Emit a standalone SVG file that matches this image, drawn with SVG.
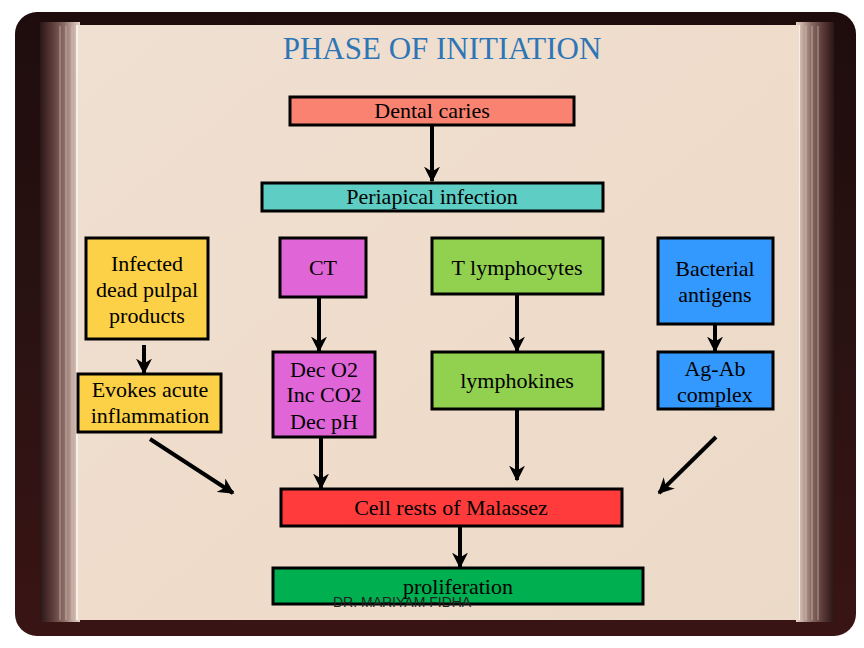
<svg xmlns="http://www.w3.org/2000/svg" width="864" height="648" viewBox="0 0 864 648">
<defs>
<linearGradient id="frameG" x1="0" y1="0" x2="0" y2="1">
<stop offset="0" stop-color="#1e0c0c"/>
<stop offset="0.5" stop-color="#2a1212"/>
<stop offset="1" stop-color="#3a1414"/>
</linearGradient>
<linearGradient id="pageG" x1="0" y1="0" x2="1" y2="1">
<stop offset="0" stop-color="#efe0d2"/>
<stop offset="0.5" stop-color="#efdccb"/>
<stop offset="1" stop-color="#ecdac9"/>
</linearGradient>
<linearGradient id="edgeL" x1="0" y1="0" x2="1" y2="0">
<stop offset="0" stop-color="#2a1616"/>
<stop offset="0.3" stop-color="#5a3a38"/>
<stop offset="0.6" stop-color="#8a6c66"/>
<stop offset="0.85" stop-color="#c8b0a6"/>
<stop offset="1" stop-color="#e8d6c8"/>
</linearGradient>
<linearGradient id="edgeR" x1="1" y1="0" x2="0" y2="0">
<stop offset="0" stop-color="#2a1616"/>
<stop offset="0.3" stop-color="#5a3a38"/>
<stop offset="0.6" stop-color="#8a6c66"/>
<stop offset="0.85" stop-color="#c8b0a6"/>
<stop offset="1" stop-color="#e8d6c8"/>
</linearGradient>
<marker id="ah" viewBox="0 0 10 10" refX="9" refY="5" markerWidth="4" markerHeight="4" orient="auto" markerUnits="strokeWidth">
<path d="M0,0 L10,5 L0,10 L3,5 z" fill="#000"/>
</marker>
<style>
.box{stroke:#000;stroke-width:3}
.t{font-family:"Liberation Serif","Times New Roman",serif;font-size:22px;fill:#000;text-anchor:middle}
.c{fill:none;stroke:#000;stroke-width:4;marker-end:url(#ah)}
</style>
</defs>
<rect width="864" height="648" fill="#fff"/>
<g id="frame">
<rect x="15" y="12" width="841" height="624" rx="22" fill="url(#frameG)"/>
<rect x="40" y="22" width="40" height="600" fill="url(#edgeL)"/>
<rect x="796" y="22" width="38" height="600" fill="url(#edgeR)"/>
<g stroke="#d8c4ba" stroke-width="1" opacity="0.7">
<line x1="60" y1="26" x2="60" y2="620"/>
<line x1="66" y1="26" x2="66" y2="620"/>
<line x1="72" y1="26" x2="72" y2="620"/>
<line x1="806" y1="26" x2="806" y2="620"/>
<line x1="812" y1="26" x2="812" y2="620"/>
<line x1="818" y1="26" x2="818" y2="620"/>
</g>
<line x1="77" y1="25" x2="77" y2="620" stroke="#fff" stroke-width="1.5"/>
<line x1="799" y1="25" x2="799" y2="620" stroke="#fff" stroke-width="1.5"/>
<rect x="78" y="25" width="721" height="595" fill="url(#pageG)"/>
</g>
<text x="442" y="59" font-family="Liberation Serif,'Times New Roman',serif" font-size="31" fill="#2e75b6" text-anchor="middle">PHASE OF INITIATION</text>
<g id="connectors">
<line class="c" x1="432" y1="125" x2="432" y2="181"/>
<line class="c" x1="144" y1="345" x2="144" y2="373"/>
<line class="c" x1="319" y1="297" x2="319" y2="351"/>
<line class="c" x1="517" y1="294" x2="517" y2="351"/>
<line class="c" x1="715" y1="324" x2="715" y2="351"/>
<line class="c" x1="321" y1="437" x2="321" y2="488"/>
<line class="c" x1="517" y1="409" x2="517" y2="480"/>
<line class="c" x1="460" y1="526" x2="460" y2="567"/>
<line class="c" x1="150" y1="439" x2="233" y2="493"/>
<line class="c" x1="716" y1="437" x2="659" y2="493"/>
</g>
<g id="dental-caries">
<rect class="box" x="290" y="97" width="284" height="28" fill="#fa8270"/>
<text class="t" x="432" y="118">Dental caries</text>
</g>
<g id="periapical">
<rect class="box" x="262" y="183" width="341" height="28" fill="#5ecdc4"/>
<text class="t" x="432" y="204">Periapical infection</text>
</g>
<g id="infected">
<rect class="box" x="86" y="238" width="122" height="101" fill="#fdd147"/>
<text class="t" x="147" y="271">Infected</text>
<text class="t" x="147" y="297">dead pulpal</text>
<text class="t" x="147" y="323">products</text>
</g>
<g id="evokes">
<rect class="box" x="78" y="374" width="143" height="58" fill="#fdd147"/>
<text class="t" x="150" y="397">Evokes acute</text>
<text class="t" x="150" y="423">inflammation</text>
</g>
<g id="ct">
<rect class="box" x="280" y="238" width="86" height="59" fill="#e066d8"/>
<text class="t" x="323" y="275">CT</text>
</g>
<g id="dec">
<rect class="box" x="273" y="352" width="102" height="85" fill="#e066d8"/>
<text class="t" x="324" y="377">Dec O2</text>
<text class="t" x="324" y="402">Inc CO2</text>
<text class="t" x="324" y="429">Dec pH</text>
</g>
<g id="t-lymphocytes">
<rect class="box" x="432" y="238" width="171" height="56" fill="#92d050"/>
<text class="t" x="517" y="275">T lymphocytes</text>
</g>
<g id="lymphokines">
<rect class="box" x="432" y="352" width="171" height="57" fill="#92d050"/>
<text class="t" x="517" y="388">lymphokines</text>
</g>
<g id="bacterial">
<rect class="box" x="658" y="238" width="115" height="86" fill="#3399ff"/>
<text class="t" x="715" y="276">Bacterial</text>
<text class="t" x="715" y="302">antigens</text>
</g>
<g id="agab">
<rect class="box" x="658" y="352" width="115" height="57" fill="#3399ff"/>
<text class="t" x="715" y="376">Ag-Ab</text>
<text class="t" x="715" y="402">complex</text>
</g>
<g id="cell-rests">
<rect class="box" x="281" y="489" width="341" height="37" fill="#ff3b3b"/>
<text class="t" x="451" y="515">Cell rests of Malassez</text>
</g>
<g id="proliferation">
<rect class="box" x="273" y="568" width="370" height="36" fill="#00b050"/>
<text class="t" x="458" y="594">proliferation</text>
</g>
<text x="333" y="607" font-family="Liberation Sans,Arial,sans-serif" font-size="14" fill="#222">DR. MARIYAM FIDHA</text>
</svg>
